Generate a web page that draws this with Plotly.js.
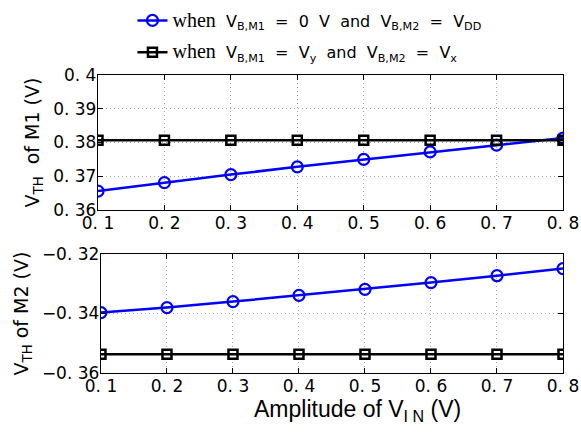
<!DOCTYPE html>
<html><head><meta charset="utf-8">
<script src="https://cdn.plot.ly/plotly-3.0.1.min.js"></script>
<style>html,body{margin:0;padding:0;background:#fff}</style>
</head><body>
<div id="chart" style="width:581px;height:438px"></div>
<script>
const amplitude = [0.1, 0.2, 0.3, 0.4, 0.5, 0.6, 0.7, 0.8];
const m1_zeroBias = [0.3656, 0.3681, 0.3705, 0.3728, 0.3750, 0.3772, 0.3792, 0.3813];
const m1_vyBias   = [0.3807, 0.3807, 0.3807, 0.3807, 0.3807, 0.3807, 0.3807, 0.3807];
const m2_zeroBias = [-0.3397, -0.3380, -0.3360, -0.3339, -0.3319, -0.3296, -0.3273, -0.3249];
const m2_vyBias   = [-0.3537, -0.3537, -0.3537, -0.3537, -0.3537, -0.3537, -0.3537, -0.3537];
const xTickVals = [0.1, 0.2, 0.3, 0.4, 0.5, 0.6, 0.7, 0.8];
const xTickText = ['0. 1','0. 2','0. 3','0. 4','0. 5','0. 6','0. 7','0. 8'];
const y1TickVals = [0.36, 0.37, 0.38, 0.39, 0.40];
const y1TickText = ['0. 36','0. 37','0. 38','0. 39','0. 4'];
const y2TickVals = [-0.36, -0.34, -0.32];
const y2TickText = ['\u22120. 36','\u22120. 34','\u22120. 32'];
const legendNames = [
  "<span style='font-family:Liberation Serif;font-size:20px'>when</span>  V<sub>B,M1</sub>  =  0  V  and  V<sub>B,M2</sub>  =  V<sub>DD</sub>",
  "<span style='font-family:Liberation Serif;font-size:20px'>when</span>  V<sub>B,M1</sub>  =  V<sub>y</sub>  and  V<sub>B,M2</sub>  =  V<sub>x</sub>"
];
const xTitle = 'Amplitude of V<sub>I N</sub> (V)';

const blue = '#0000ff', black = '#000000';
const circ = {symbol:'circle-open', size:11, color:blue, line:{width:2.2, color:blue}};
const sq = {symbol:'square-open', size:9, color:black, line:{width:2.5, color:black}};

const traces = [
  {x:amplitude, y:m1_zeroBias, xaxis:'x', yaxis:'y', mode:'lines+markers', name:legendNames[0], legendgroup:'a', line:{color:blue, width:2.5}, marker:circ},
  {x:amplitude, y:m1_vyBias, xaxis:'x', yaxis:'y', mode:'lines+markers', name:legendNames[1], legendgroup:'b', line:{color:black, width:2.5}, marker:sq},
  {x:amplitude, y:m2_zeroBias, xaxis:'x2', yaxis:'y2', mode:'lines+markers', showlegend:false, legendgroup:'a', line:{color:blue, width:2.5}, marker:circ},
  {x:amplitude, y:m2_vyBias, xaxis:'x2', yaxis:'y2', mode:'lines+markers', showlegend:false, legendgroup:'b', line:{color:black, width:2.5}, marker:sq}
];

const tickFont = {family:'DejaVu Sans', size:17, color:'#000'};
const axBase = {
  showline:true, mirror:'ticks', linecolor:'#000', linewidth:1.2,
  ticks:'inside', ticklen:5, tickcolor:'#000', ticklabelstandoff:-3,
  showgrid:true, gridcolor:'#a8a8a8', griddash:'1px,3px', gridwidth:1,
  zeroline:false, tickfont:tickFont
};

const layout = {
  width:581, height:438,
  margin:{l:0, r:0, t:0, b:0},
  paper_bgcolor:'#fff', plot_bgcolor:'#fff',
  showlegend:true,
  legend:{x:0.228, y:0.992, xanchor:'left', yanchor:'top', bgcolor:'rgba(0,0,0,0)',
          font:{family:'DejaVu Sans', size:16, color:'#000'}, tracegroupgap:8, traceorder:'grouped'},
  xaxis:Object.assign({}, axBase, {domain:[0.1687, 0.969], range:[0.1, 0.8], anchor:'y',
          tickmode:'array', tickvals:xTickVals, ticktext:xTickText}),
  yaxis:Object.assign({}, axBase, {domain:[0.5205, 0.8288], range:[0.36, 0.40], anchor:'x',
          tickmode:'array', tickvals:y1TickVals, ticktext:y1TickText,
          title:{text:'V<sub>TH</sub>  of M1 (V)', font:{family:'DejaVu Sans', size:19, color:'#000'}, standoff:8}}),
  xaxis2:Object.assign({}, axBase, {domain:[0.1738, 0.969], range:[0.1, 0.8], anchor:'y2',
          tickmode:'array', tickvals:xTickVals, ticktext:xTickText}),
  yaxis2:Object.assign({}, axBase, {domain:[0.1484, 0.4201], range:[-0.36, -0.32], anchor:'x2',
          tickmode:'array', tickvals:y2TickVals, ticktext:y2TickText,
          title:{text:'V<sub>TH</sub> of M2 (V)', font:{family:'DejaVu Sans', size:19, color:'#000'}, standoff:8}}),
  annotations:[{text:xTitle, xref:'paper', yref:'paper', x:0.616, y:0.062, xanchor:'center', yanchor:'middle',
          showarrow:false, font:{family:'Liberation Sans', size:23, color:'#000'}}]
};

Plotly.newPlot('chart', traces, layout, {staticPlot:true, displayModeBar:false});
</script>
</body></html>
